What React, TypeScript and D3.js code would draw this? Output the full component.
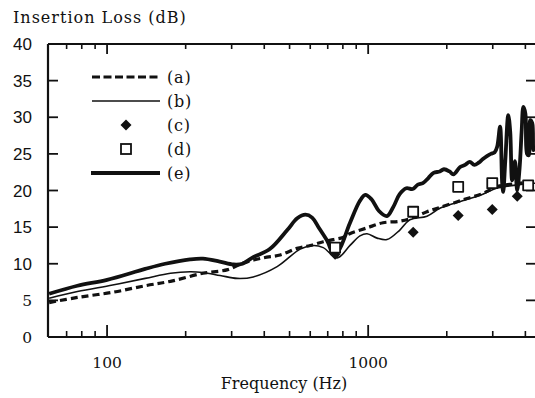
import React from "react";
import * as d3 from "d3";

// ---- data (frequency in Hz, insertion loss in dB) ----
const seriesAFreq = [60, 77, 105, 140, 175, 233, 290, 332, 396, 460, 534, 600, 673, 735, 800, 850, 990, 1140, 1320, 1490, 1680, 1890, 2300, 2750, 3100, 3800, 4364];
const seriesAVals = [4.7, 5.4, 6.1, 7.0, 7.6, 8.7, 9.2, 10.1, 10.8, 11.2, 12.1, 12.5, 13.0, 13.3, 13.6, 14.1, 14.9, 15.6, 15.8, 16.3, 17.1, 17.7, 18.7, 19.6, 20.5, 21.0, 21.2];

const seriesBFreq = [60, 77, 105, 140, 175, 208, 233, 271, 315, 363, 448, 549, 617, 673, 761, 852, 930, 990, 1082, 1180, 1322, 1444, 1680, 1890, 2300, 2750, 3100, 3800, 4364];
const seriesBVals = [5.3, 6.2, 7.1, 8.0, 8.7, 8.9, 8.8, 8.4, 8.0, 8.2, 9.6, 12.0, 12.5, 12.2, 10.8, 12.5, 13.8, 14.1, 13.5, 13.3, 14.6, 16.0, 16.5, 17.6, 18.6, 19.5, 20.3, 20.8, 21.0];

const seriesEFreq = [60, 77, 100, 140, 167, 208, 233, 270, 305, 330, 363, 420, 490, 535, 575, 610, 650, 700, 735, 770, 850, 930, 975, 1030, 1100, 1180, 1250, 1320, 1400, 1480, 1550, 1620, 1700, 1780, 1880, 1950, 2050, 2120, 2250, 2350, 2450, 2550, 2650, 2750, 2850, 2950, 3050, 3120, 3200, 3260, 3290, 3350, 3440, 3500, 3560, 3650, 3720, 3800, 3870, 3930, 4000, 4060, 4120, 4175, 4250, 4300, 4364];
const seriesEVals = [5.9, 7.0, 7.8, 9.3, 10.0, 10.6, 10.7, 10.3, 9.9, 10.0, 10.9, 12.0, 14.6, 16.2, 16.7, 16.3, 14.8, 13.0, 11.4, 11.8, 15.5, 18.6, 19.4, 18.8, 17.2, 16.5, 17.8, 19.5, 20.3, 20.2, 20.8, 21.0, 21.7, 22.4, 22.6, 22.9, 22.6, 22.2, 23.2, 23.5, 23.9, 23.5, 23.8, 24.3, 24.7, 25.0, 25.2, 26.0, 28.7, 21.0, 19.8, 24.0, 30.3, 28.0, 21.4, 24.0, 20.0, 23.0, 28.0, 31.4, 30.5, 25.0, 24.8, 29.6, 29.2, 25.5, 26.0];

const diamondFreq = [747, 1487, 2212, 2987, 3723];
const diamondVals = [11.3, 14.3, 16.6, 17.4, 19.2];

const squareFreq = [747, 1487, 2212, 2987, 4100];
const squareVals = [12.2, 17.1, 20.5, 21.0, 20.7];

const yTicks = [0, 5, 10, 15, 20, 25, 30, 35, 40];
const xMajorTicks = [100, 1000];
const xMinorTicks = [70, 80, 90, 200, 300, 400, 500, 600, 700, 800, 900, 2000, 3000, 4000];
const legendLabels = ["(a)", "(b)", "(c)", "(d)", "(e)"];

const W = 535;
const H = 398;
const left = 48;
const right = 536;
const top = 44;
const bottom = 337;

export default function App() {
  const x = d3.scaleLog().domain([59.4, 4393]).range([left, right]);
  const y = d3.scaleLinear().domain([0, 40]).range([bottom, top]);

  const zip = (fs: number[], vs: number[]) => fs.map((f, i) => [f, vs[i]] as [number, number]);
  const line = d3
    .line<[number, number]>()
    .x((d) => x(d[0]))
    .y((d) => y(d[1]))
    .curve(d3.curveCatmullRom.alpha(0.5));

  const serif = "'DejaVu Serif', serif";
  const sans = "'Liberation Sans', Arial, sans-serif";

  const legendY = (i: number) => 77 + i * 24;

  const diamond = (cx: number, cy: number, r: number) =>
    `M${cx},${cy - r}L${cx + r},${cy}L${cx},${cy + r}L${cx - r},${cy}Z`;

  return (
    <svg
      width={W}
      height={H}
      style={{ position: "absolute", left: 0, top: 0, background: "#fff" }}
    >
      <defs>
        <clipPath id="plotclip">
          <rect x={left} y={top} width={right - left} height={bottom - top} />
        </clipPath>
      </defs>

      {/* title */}
      <text x={13} y={23} fontFamily={serif} fontSize={16} letterSpacing={1} fill="#111">
        Insertion Loss (dB)
      </text>

      {/* frame */}
      <line x1={left} x2={left} y1={top} y2={bottom} stroke="#111" strokeWidth={2.2} />
      <line x1={left} x2={right} y1={top} y2={top} stroke="#111" strokeWidth={1.8} />
      <line x1={left} x2={right} y1={bottom} y2={bottom} stroke="#111" strokeWidth={1.8} />
      <line x1={right} x2={right} y1={top} y2={bottom} stroke="#111" strokeWidth={1.8} />

      {/* y ticks + labels */}
      {yTicks.map((t) => (
        <g key={"y" + t}>
          {t > 0 && t < 40 && (
            <>
              <line x1={left} x2={left + 10} y1={y(t)} y2={y(t)} stroke="#111" strokeWidth={1.8} />
              <line x1={right - 10} x2={right} y1={y(t)} y2={y(t)} stroke="#111" strokeWidth={1.8} />
            </>
          )}
          <text
            x={32}
            y={y(t) + 6}
            textAnchor="end"
            fontFamily={t < 10 ? serif : sans}
            fontSize={t < 10 ? 15.5 : 17}
            fill="#111"
          >
            {t}
          </text>
        </g>
      ))}

      {/* x ticks */}
      {xMinorTicks.map((t) => (
        <g key={"xm" + t}>
          <line x1={x(t)} x2={x(t)} y1={bottom} y2={bottom - 6} stroke="#111" strokeWidth={1.6} />
          <line x1={x(t)} x2={x(t)} y1={top} y2={top + 5} stroke="#111" strokeWidth={1.6} />
        </g>
      ))}
      {xMajorTicks.map((t) => (
        <g key={"xM" + t}>
          <line x1={x(t)} x2={x(t)} y1={bottom} y2={bottom - 12} stroke="#111" strokeWidth={1.8} />
          <line x1={x(t)} x2={x(t)} y1={top} y2={top + 10} stroke="#111" strokeWidth={1.8} />
          <text x={x(t)} y={368} textAnchor="middle" fontFamily={serif} fontSize={15.5} fill="#111">
            {t}
          </text>
        </g>
      ))}

      <text x={284} y={389} textAnchor="middle" fontFamily={serif} fontSize={16} fill="#111">
        Frequency (Hz)
      </text>

      {/* series */}
      <g clipPath="url(#plotclip)" fill="none" strokeLinejoin="round">
        <path d={line(zip(seriesBFreq, seriesBVals)) || ""} stroke="#111" strokeWidth={1.6} />
        <path
          d={line(zip(seriesAFreq, seriesAVals)) || ""}
          stroke="#111"
          strokeWidth={3.2}
          strokeDasharray="7,4"
        />
        <path d={line(zip(seriesEFreq, seriesEVals)) || ""} stroke="#111" strokeWidth={3.8} />
        {zip(diamondFreq, diamondVals).map((d, i) => (
          <path key={"dm" + i} d={diamond(x(d[0]), y(d[1]), 5.5)} fill="#111" stroke="none" />
        ))}
        {zip(squareFreq, squareVals).map((d, i) => (
          <rect
            key={"sq" + i}
            x={x(d[0]) - 5}
            y={y(d[1]) - 5}
            width={10}
            height={10}
            fill="#fff"
            stroke="#111"
            strokeWidth={1.8}
          />
        ))}
      </g>

      {/* legend */}
      <g>
        <line x1={92} x2={160} y1={legendY(0)} y2={legendY(0)} stroke="#111" strokeWidth={3.2} strokeDasharray="8,3.5" />
        <line x1={92} x2={160} y1={legendY(1)} y2={legendY(1)} stroke="#111" strokeWidth={1.6} />
        <path d={diamond(126, legendY(2), 5.5)} fill="#111" />
        <rect x={121} y={legendY(3) - 5} width={10} height={10} fill="#fff" stroke="#111" strokeWidth={1.8} />
        <line x1={91} x2={160} y1={legendY(4)} y2={legendY(4)} stroke="#111" strokeWidth={3.8} />
        {legendLabels.map((l, i) => (
          <text key={l} x={167} y={legendY(i) + 5.5} fontFamily={serif} fontSize={16} letterSpacing={0.8} fill="#111">
            {l}
          </text>
        ))}
      </g>
    </svg>
  );
}
